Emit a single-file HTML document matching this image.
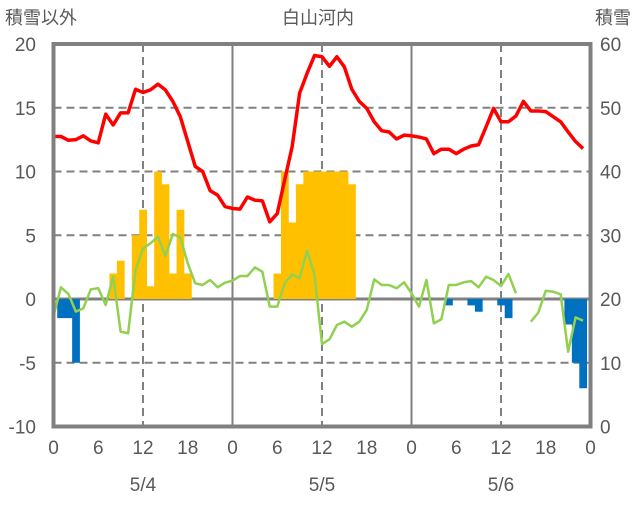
<!DOCTYPE html>
<html><head><meta charset="utf-8"><style>
body{margin:0;background:#fff;}
svg text{font-family:"Liberation Sans","Noto Sans CJK JP",sans-serif;fill:#595959;}
</style></head><body>
<svg id="chart" width="636" height="501" viewBox="0 0 636 501" xmlns="http://www.w3.org/2000/svg">
<g id="grid"></g>
<g id="bars"></g>
<g id="lines"></g>
<g id="axes"></g>
<text x="5" y="24" font-size="18">積雪以外</text>
<text x="318" y="24" font-size="18" text-anchor="middle">白山河内</text>
<text x="631" y="24" font-size="18" text-anchor="end">積雪</text>
</svg>
<script>
const hoursTicks=["0","6","12","18","0","6","12","18","0","6","12","18","0"];
const dateLabels=["5/4","5/5","5/6"];
const leftTicks=[20,15,10,5,0,-5,-10];
const rightTicks=[60,50,40,30,20,10,0];
const snowDepth=[45.5,45.5,44.9,45.0,45.6,44.8,44.5,49.0,47.3,49.2,49.2,52.9,52.4,52.8,53.7,52.8,51.0,48.6,44.7,40.8,40.0,37.0,36.3,34.5,34.2,34.1,36.0,35.5,35.4,32.1,33.4,38.7,43.9,52.3,55.4,58.2,58.0,56.5,58.0,56.4,52.9,51.0,49.9,47.8,46.4,46.2,45.1,45.7,45.6,45.4,45.1,42.8,43.5,43.5,42.8,43.5,44.0,44.2,47.0,49.9,47.8,47.8,48.7,51.0,49.5,49.5,49.4,48.6,47.8,46.2,44.7,43.6];
const greenSeries=[-1.33,0.92,0.39,-0.99,-0.73,0.76,0.84,-0.47,1.75,-2.56,-2.69,2.27,3.97,4.37,4.89,3.37,5.1,4.84,2.8,1.23,1.1,1.49,0.92,1.28,1.44,1.8,1.8,2.48,2.14,-0.6,-0.6,1.23,1.93,1.62,3.79,1.88,-3.53,-3.16,-2.04,-1.78,-2.17,-1.78,-0.86,1.54,1.1,1.1,0.84,1.31,0.45,-0.6,1.49,-1.91,-1.59,1.1,1.1,1.31,1.4,0.92,1.75,1.49,1.02,1.96,0.45,null,-1.78,-1.07,0.65,0.57,0.37,-4.13,-1.44,-1.7];
const snowfall=[0,-1.5,-1.5,-5,0,0,0,0,2,3,0,5,7,1,10,9,2,7,2,0,0,0,0,0,0,0,0,0,0,0,2,10,6,9,10,10,10,10,10,10,9,0,0,0,0,0,0,0,0,0,0,0,0,-0.5,0,0,-0.5,-1,0,0,-0.5,-1.5,0,0,0,0,0,0,0,-2,-5,-7];
const NS="http://www.w3.org/2000/svg";
const X0=53.5,X1=590.5,YT=44,YB=426.5,NH=72;
const xs=h=>X0+(X1-X0)*h/NH;
const yL=v=>YT+(20-v)*(YB-YT)/30;
const yR=v=>YT+(60-v)*(YB-YT)/60;
function mk(p,tag,a){const e=document.createElementNS(NS,tag);for(const k in a)e.setAttribute(k,a[k]);p.appendChild(e);return e;}
const grid=document.getElementById('grid'),bars=document.getElementById('bars'),lines=document.getElementById('lines'),axes=document.getElementById('axes');
leftTicks.forEach(v=>{
  if(v===20||v===-10)return;
  const l=mk(grid,'line',{x1:X0,x2:X1,y1:yL(v),y2:yL(v),stroke:'#808080','stroke-width':v===0?3:2,'stroke-dasharray':v===0?'none':'8,5'});
  
  
});
[12,24,36,48,60].forEach(h=>{
  const l=mk(grid,'line',{x1:xs(h),x2:xs(h),y1:YT,y2:YB,stroke:'#808080','stroke-width':2,'stroke-dasharray':h%24===0?'none':'8,5'});
  
  
});
snowfall.forEach((v,i)=>{
  if(!v)return;
  const y0=yL(0),y1=yL(v);
  const r=mk(bars,'rect',{x:xs(i)-(X1-X0)/NH/2,y:Math.min(y0,y1),width:(X1-X0)/NH+0.3,height:Math.abs(y1-y0),fill:v>0?'#FFC000':'#0070C0'});
  
  
});
let segs=[],cur=[];
greenSeries.forEach((v,i)=>{if(v===null){if(cur.length)segs.push(cur);cur=[];}else cur.push(xs(i)+','+yL(v));});
if(cur.length)segs.push(cur);
segs.forEach(s=>{
  const p=mk(lines,'polyline',{points:s.join(' '),fill:'none',stroke:'#92D050','stroke-width':2.5,'stroke-linejoin':'round'});
  
  
});
const red=mk(lines,'polyline',{points:snowDepth.map((v,i)=>xs(i)+','+yR(v)).join(' '),fill:'none',stroke:'#FF0000','stroke-width':3.5,'stroke-linejoin':'round'});


const fr=mk(axes,'rect',{x:X0,y:YT,width:X1-X0,height:YB-YT,fill:'none',stroke:'#808080','stroke-width':4});


leftTicks.forEach(v=>{
  const t=mk(axes,'text',{x:36,y:yL(v)+7,'font-size':19,'text-anchor':'end'});t.textContent=v;
  
  
});
rightTicks.forEach(v=>{
  const t=mk(axes,'text',{x:600,y:yR(v)+7,'font-size':19});t.textContent=v;
  
  
});
hoursTicks.forEach((s,i)=>{
  const t=mk(axes,'text',{x:xs(i*6),y:454,'font-size':19,'text-anchor':'middle'});t.textContent=s;
  
  
});
dateLabels.forEach((s,i)=>{
  const t=mk(axes,'text',{x:xs(12+24*i),y:491,'font-size':19,'text-anchor':'middle'});t.textContent=s;
  
  
});
</script>
</body></html>
